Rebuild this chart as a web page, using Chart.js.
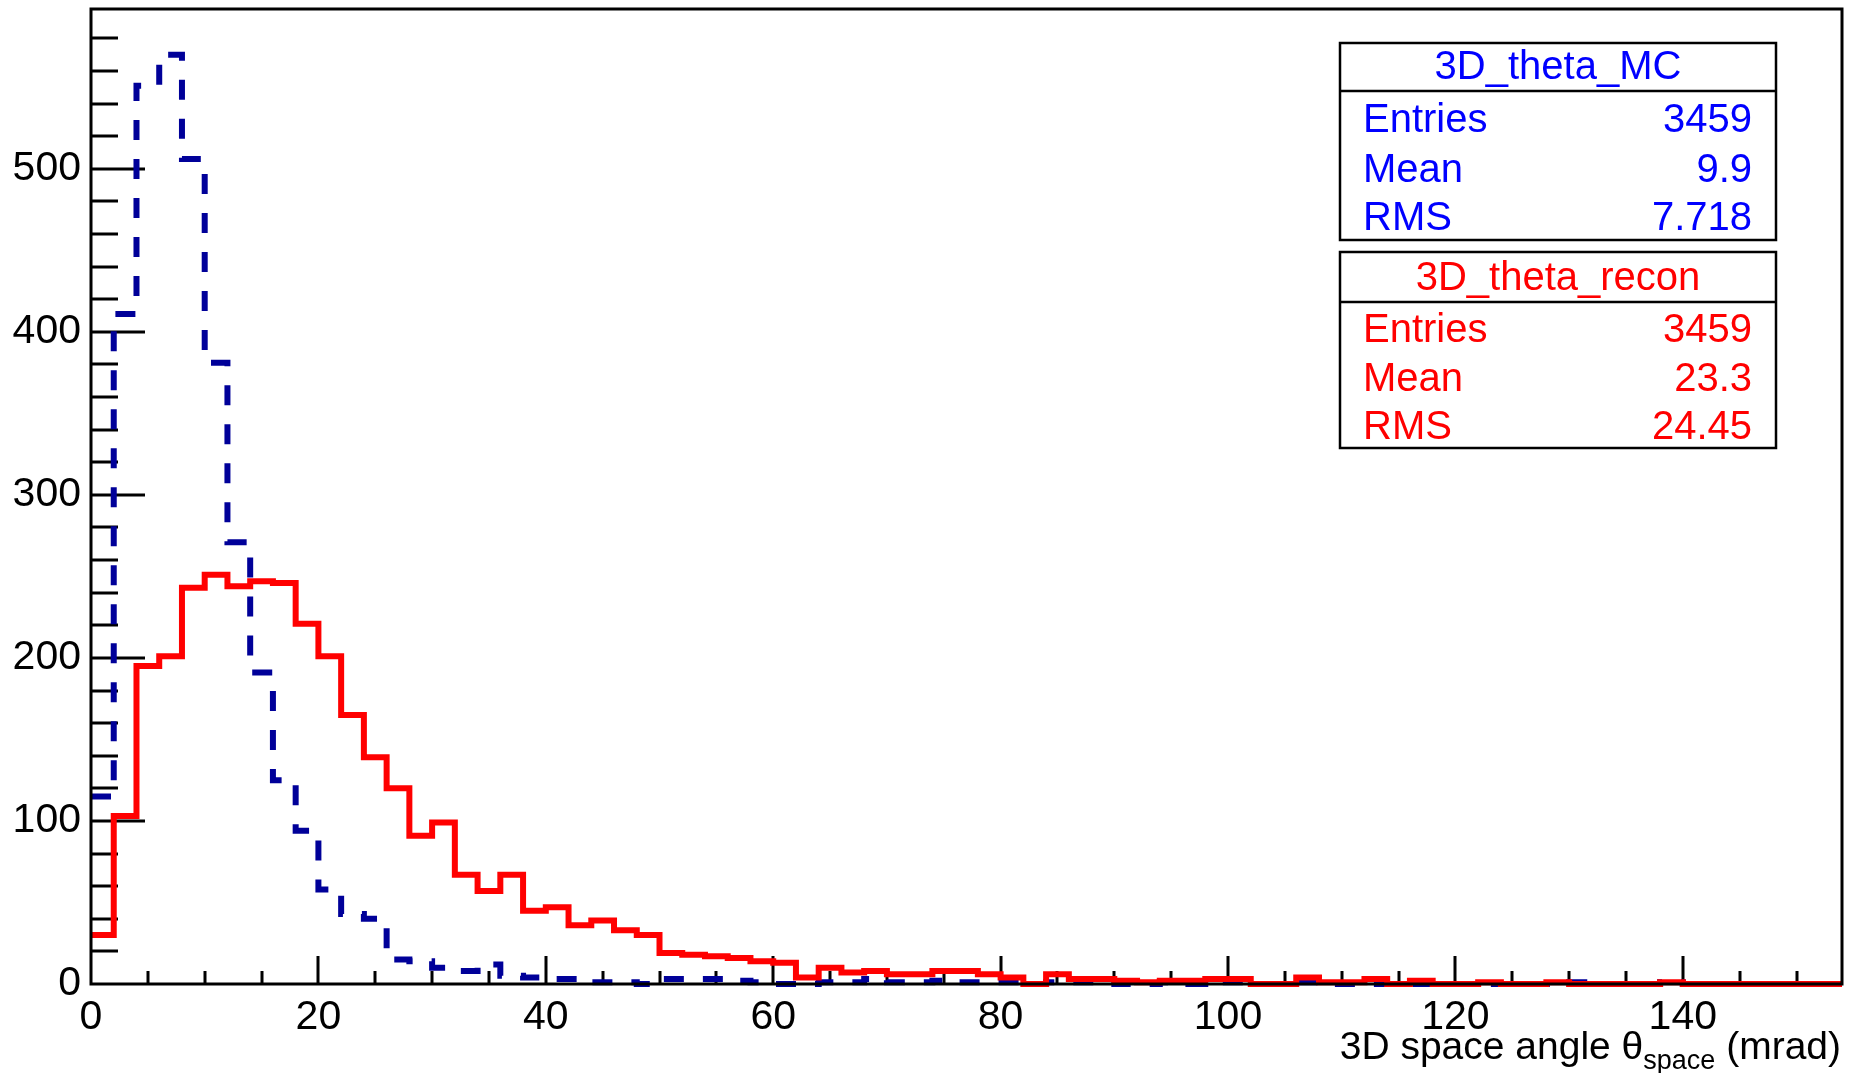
<!DOCTYPE html>
<html>
<head>
<meta charset="utf-8">
<script src="https://cdn.jsdelivr.net/npm/chart.js@4.4.0/dist/chart.umd.min.js"></script>
<style>
  html, body { margin: 0; padding: 0; background: #fff; }
  #wrap { width: 1856px; height: 1073px; position: relative; }
</style>
</head>
<body>
<div id="wrap"><canvas id="chart"></canvas></div>
<script>
const BIN_WIDTH = 2;      // mrad per bin
const X_MAX = 154;
const Y_MAX = 598;

// 3D_theta_recon, counts per 2 mrad bin starting at 0
const reconCounts = [
    30, 103, 195, 201, 243, 251, 244, 247, 246, 221,
    201, 165, 139, 120, 91, 99, 67, 57, 67, 45,
    47, 36, 39, 33, 30, 19, 18, 17, 16, 14,
    13, 4, 10, 7, 8, 6, 6, 8, 8, 6,
    4, 0, 6, 3, 3, 2, 1, 2, 2, 3,
    3, 0, 0, 4, 1, 1, 3, 0, 2, 0,
    0, 1, 0, 0, 1, 0, 0, 0, 0, 1,
    0, 0, 0, 0, 0, 0, 0
];

// 3D_theta_MC
const mcCounts = [
    115, 411, 551, 570, 506, 381, 271, 191, 125, 94,
    58, 43, 40, 15, 14, 10, 8, 12, 5, 4,
    3, 3, 1, 1, 0, 3, 3, 3, 2, 1,
    0, 0, 1, 1, 3, 1, 1, 2, 1, 1,
    1, 0, 1, 1, 1, 0, 0, 1, 0, 1,
    1, 0, 0, 1, 0, 0, 0, 0, 0, 0,
    0, 0, 0, 0, 0, 1, 0, 0, 0, 1,
    0, 0, 0, 0, 0, 0, 0
];

const yTickLabels = [0, 100, 200, 300, 400, 500];
const xTickLabels = [0, 20, 40, 60, 80, 100, 120, 140];

const statNames = ["Entries", "Mean", "RMS"];
const mcStatValues = ["3459", "9.9", "7.718"];
const reconStatValues = ["3459", "23.3", "24.45"];

const FONT = '"Liberation Sans", Arial, sans-serif';

function histPoints(counts) {
    const pts = counts.map((c, i) => ({ x: i * BIN_WIDTH, y: c }));
    pts.push({ x: counts.length * BIN_WIDTH, y: counts[counts.length - 1] });
    return pts;
}

/* ------------------- frame, ticks, title, stats ------------------ */

const rootFrame = {
    id: "rootFrame",
    beforeDatasetsDraw(chart) {
        const { ctx, chartArea: a, scales } = chart;
        ctx.save();
        ctx.strokeStyle = "#000";
        ctx.lineWidth = 3;
        ctx.beginPath();
        for (let v = 20; v < Y_MAX; v += 20) {
            const y = Math.round(scales.y.getPixelForValue(v));
            const len = v % 100 === 0 ? 54 : 27;
            ctx.moveTo(a.left, y);
            ctx.lineTo(a.left + len, y);
        }
        for (let v = 5; v < X_MAX; v += 5) {
            const x = Math.round(scales.x.getPixelForValue(v));
            const len = v % 20 === 0 ? 28 : 13;
            ctx.moveTo(x, a.bottom);
            ctx.lineTo(x, a.bottom - len);
        }
        ctx.stroke();
        ctx.restore();
    },
    afterDraw(chart) {
        const { ctx, chartArea: a } = chart;
        ctx.save();
        ctx.strokeStyle = "#000";
        ctx.lineWidth = 3;
        ctx.strokeRect(a.left, a.top, a.right - a.left, a.bottom - a.top);

        // axis title with subscript
        const big = "39px " + FONT, small = "27px " + FONT;
        const t1 = "3D space angle \u03b8", t2 = "space", t3 = " (mrad)";
        ctx.font = big;
        const w1 = ctx.measureText(t1).width, w3 = ctx.measureText(t3).width;
        ctx.font = small;
        const w2 = ctx.measureText(t2).width;
        let x = a.right - 1 - (w1 + w2 + w3);
        const base = 1059;
        ctx.fillStyle = "#000";
        ctx.textBaseline = "alphabetic";
        ctx.textAlign = "left";
        ctx.font = big; ctx.fillText(t1, x, base); x += w1;
        ctx.font = small; ctx.fillText(t2, x, base + 10); x += w2;
        ctx.font = big; ctx.fillText(t3, x, base);

        drawStats(ctx, 1340, 43, 436, 197, 91, "3D_theta_MC", mcStatValues, "#0000ff", [79, 132, 182, 230]);
        drawStats(ctx, 1340, 252, 436, 196, 302, "3D_theta_recon", reconStatValues, "#ff0000", [290, 342, 391, 439]);
        ctx.restore();
    }
};

function drawStats(ctx, x, y, w, h, lineY, title, values, color, baselines) {
    ctx.fillStyle = "#fff";
    ctx.fillRect(x, y, w, h);
    ctx.strokeStyle = "#000";
    ctx.lineWidth = 2.5;
    ctx.strokeRect(x, y, w, h);
    ctx.beginPath();
    ctx.moveTo(x, lineY);
    ctx.lineTo(x + w, lineY);
    ctx.stroke();

    ctx.fillStyle = color;
    ctx.font = "40px " + FONT;
    ctx.textBaseline = "alphabetic";
    ctx.textAlign = "center";
    ctx.fillText(title, x + w / 2, baselines[0]);
    statNames.forEach((name, i) => {
        ctx.textAlign = "left";
        ctx.fillText(name, x + 23, baselines[i + 1]);
        ctx.textAlign = "right";
        ctx.fillText(values[i], x + w - 24, baselines[i + 1]);
    });
}

/* ------------------- chart ------------------ */

new Chart(document.getElementById("chart"), {
    type: "line",
    data: {
        datasets: [
            {
                label: "3D_theta_recon",
                data: histPoints(reconCounts),
                borderColor: "#ff0000",
                borderWidth: 6,
                stepped: "before",
                pointRadius: 0,
                fill: false,
                clip: false,
                borderJoinStyle: "miter",
                borderCapStyle: "butt"
            },
            {
                label: "3D_theta_MC",
                data: histPoints(mcCounts),
                borderColor: "#000099",
                borderWidth: 6,
                borderDash: [20, 19],
                stepped: "before",
                pointRadius: 0,
                fill: false,
                clip: false,
                borderJoinStyle: "miter",
                borderCapStyle: "butt"
            }
        ]
    },
    options: {
        responsive: true,
        maintainAspectRatio: false,
        animation: false,
        devicePixelRatio: 1,
        layout: { padding: { top: 9, right: 14, left: 0, bottom: 0 } },
        plugins: { legend: { display: false }, tooltip: { enabled: false } },
        scales: {
            x: {
                type: "linear",
                min: 0,
                max: X_MAX,
                grid: { display: false, drawTicks: false },
                border: { display: false },
                afterBuildTicks: (s) => { s.ticks = xTickLabels.map(v => ({ value: v })); },
                afterFit: (s) => {
                    s.height = 89;
                    s.paddingLeft = 0;
                    s.paddingRight = 0;
                },
                ticks: {
                    autoSkip: false,
                    maxRotation: 0,
                    padding: 9,
                    color: "#000",
                    font: { family: FONT, size: 41 }
                }
            },
            y: {
                type: "linear",
                min: 0,
                max: Y_MAX,
                grid: { display: false, drawTicks: false },
                border: { display: false },
                afterBuildTicks: (s) => { s.ticks = yTickLabels.map(v => ({ value: v })); },
                afterFit: (s) => {
                    s.width = 91;
                    s.paddingTop = 0;
                    s.paddingBottom = 0;
                },
                ticks: {
                    autoSkip: false,
                    padding: 10,
                    color: "#000",
                    font: { family: FONT, size: 41 }
                }
            }
        }
    },
    plugins: [rootFrame]
});
</script>
</body>
</html>
